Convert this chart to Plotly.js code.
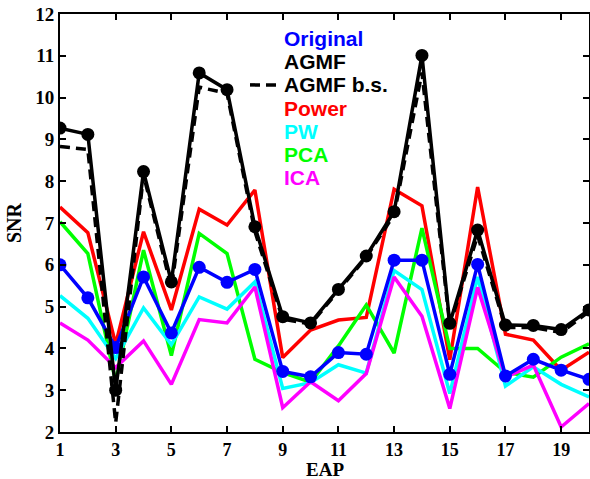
<!DOCTYPE html>
<html>
<head>
<meta charset="utf-8">
<script src="https://cdn.plot.ly/plotly-3.0.1.min.js"></script>
<style>html,body{margin:0;padding:0;background:#fff;}#chart{width:590px;height:479px;}</style>
</head>
<body>
<div id="chart"></div>
<script>
const eap = [1,2,3,4,5,6,7,8,9,10,11,12,13,14,15,16,17,18,19,20];
const original = [6.0,5.21,4.02,5.71,4.37,5.94,5.58,5.89,3.45,3.32,3.90,3.86,6.11,6.11,3.38,6.01,3.34,3.74,3.48,3.26];
const agmf = [9.27,9.12,3.0,8.23,5.59,10.59,10.19,6.91,4.76,4.61,5.41,6.21,7.27,11.01,4.60,6.83,4.56,4.55,4.45,4.92];
const agmfBs = [8.83,8.76,2.22,8.15,5.45,10.25,10.1,6.8,4.7,4.58,5.38,6.18,7.2,10.6,4.55,6.7,4.5,4.5,4.38,4.88];
const power = [7.38,6.77,4.1,6.79,4.92,7.33,6.95,7.79,3.78,4.44,4.68,4.74,7.81,7.41,3.73,7.86,4.34,4.2,3.48,3.91];
const pw = [5.26,4.72,3.76,4.97,4.09,5.23,4.94,5.59,3.04,3.18,3.61,3.41,5.86,5.41,2.92,5.71,3.1,3.56,3.14,2.84];
const pca = [7.03,6.27,3.2,6.35,3.83,6.75,6.27,3.74,3.42,3.19,4.06,5.04,3.89,6.88,4.0,4.0,3.43,3.31,3.79,4.11];
const ica = [4.61,4.2,3.54,4.18,3.14,4.69,4.61,5.47,2.58,3.2,2.75,3.4,5.71,4.77,2.56,5.46,3.31,3.6,2.12,2.68];
const xTicks = [1,3,5,7,9,11,13,15,17,19];
const yTicks = [2,3,4,5,6,7,8,9,10,11,12];
const names = ['Original','AGMF','AGMF b.s.','Power','PW','PCA','ICA'];
const colors = ['#0000ff','#000000','#000000','#ff0000','#00ffff','#00ff00','#ff00ff'];

const lw = 3.5;
const traces = [
  {x: eap, y: power, mode: 'lines', line: {color: colors[3], width: lw}, name: names[3]},
  {x: eap, y: pca, mode: 'lines', line: {color: colors[5], width: lw}, name: names[5]},
  {x: eap, y: pw, mode: 'lines', line: {color: colors[4], width: lw}, name: names[4]},
  {x: eap, y: ica, mode: 'lines', line: {color: colors[6], width: lw}, name: names[6]},
  {x: eap, y: original, mode: 'lines+markers', line: {color: colors[0], width: lw}, marker: {color: colors[0], size: 13}, name: names[0]},
  {x: eap, y: agmfBs, mode: 'lines', line: {color: colors[2], width: lw, dash: '10px,6px'}, name: names[2]},
  {x: eap, y: agmf, mode: 'lines+markers', line: {color: colors[1], width: lw}, marker: {color: colors[1], size: 13}, name: names[1]}
];

const legendTop = 38.5, legendStep = 23.2;
const annotations = names.map((n, i) => ({
  xref: 'paper', yref: 'paper',
  x: (282 - 60) / 529, y: 1 - (legendTop + i * legendStep - 14) / 418,
  xanchor: 'left', yanchor: 'middle', showarrow: false,
  text: '<b>' + n + '</b>',
  font: {family: 'Liberation Sans, Arial, sans-serif', size: 21, color: colors[i]}
}));
annotations.push({
  xref: 'paper', yref: 'paper', x: 0.5, y: 0, yshift: -37.5, xanchor: 'center', yanchor: 'middle',
  showarrow: false, borderpad: 0, text: '<b>EAP</b>',
  font: {family: 'Liberation Serif, Times New Roman, serif', size: 19, color: '#000'}
});

const bsY = 1 - (legendTop + 2 * legendStep - 14) / 418;
const shapes = [{
  type: 'line', xref: 'paper', yref: 'paper',
  x0: (250 - 60) / 529, x1: (280 - 60) / 529, y0: bsY, y1: bsY,
  line: {color: '#000', width: 3.5, dash: '10px,6px'}
}];

const tickFont = {family: 'Liberation Serif, Times New Roman, serif', size: 19, color: '#000'};
const xTickFont = {family: 'Liberation Serif, Times New Roman, serif', size: 18, color: '#000'};
const layout = {
  width: 590, height: 479,
  margin: {l: 60, r: 1, t: 14, b: 47},
  paper_bgcolor: '#fff', plot_bgcolor: '#fff',
  showlegend: false,
  xaxis: {
    range: [1, 20], tickvals: xTicks, ticktext: xTicks.map(v => '<b>' + v + '</b>'),
    ticks: 'inside', ticklen: 6, tickwidth: 2, tickcolor: '#000',
    showline: true, linecolor: '#000', linewidth: 2, mirror: 'ticks',
    showgrid: false, zeroline: false, tickfont: xTickFont
  },
  yaxis: {
    range: [2, 12], tickvals: yTicks, ticktext: yTicks.map(v => '<b>' + v + '</b>'),
    ticks: 'inside', ticklen: 6, tickwidth: 2, tickcolor: '#000',
    showline: true, linecolor: '#000', linewidth: 2, mirror: 'ticks',
    showgrid: false, zeroline: false, tickfont: tickFont,
    title: {text: '<b>SNR</b>', font: {family: 'Liberation Serif, Times New Roman, serif', size: 20, color: '#000'}, standoff: 8}
  },
  annotations: annotations,
  shapes: shapes
};

Plotly.newPlot('chart', traces, layout, {staticPlot: true, displayModeBar: false});
</script>
</body>
</html>
